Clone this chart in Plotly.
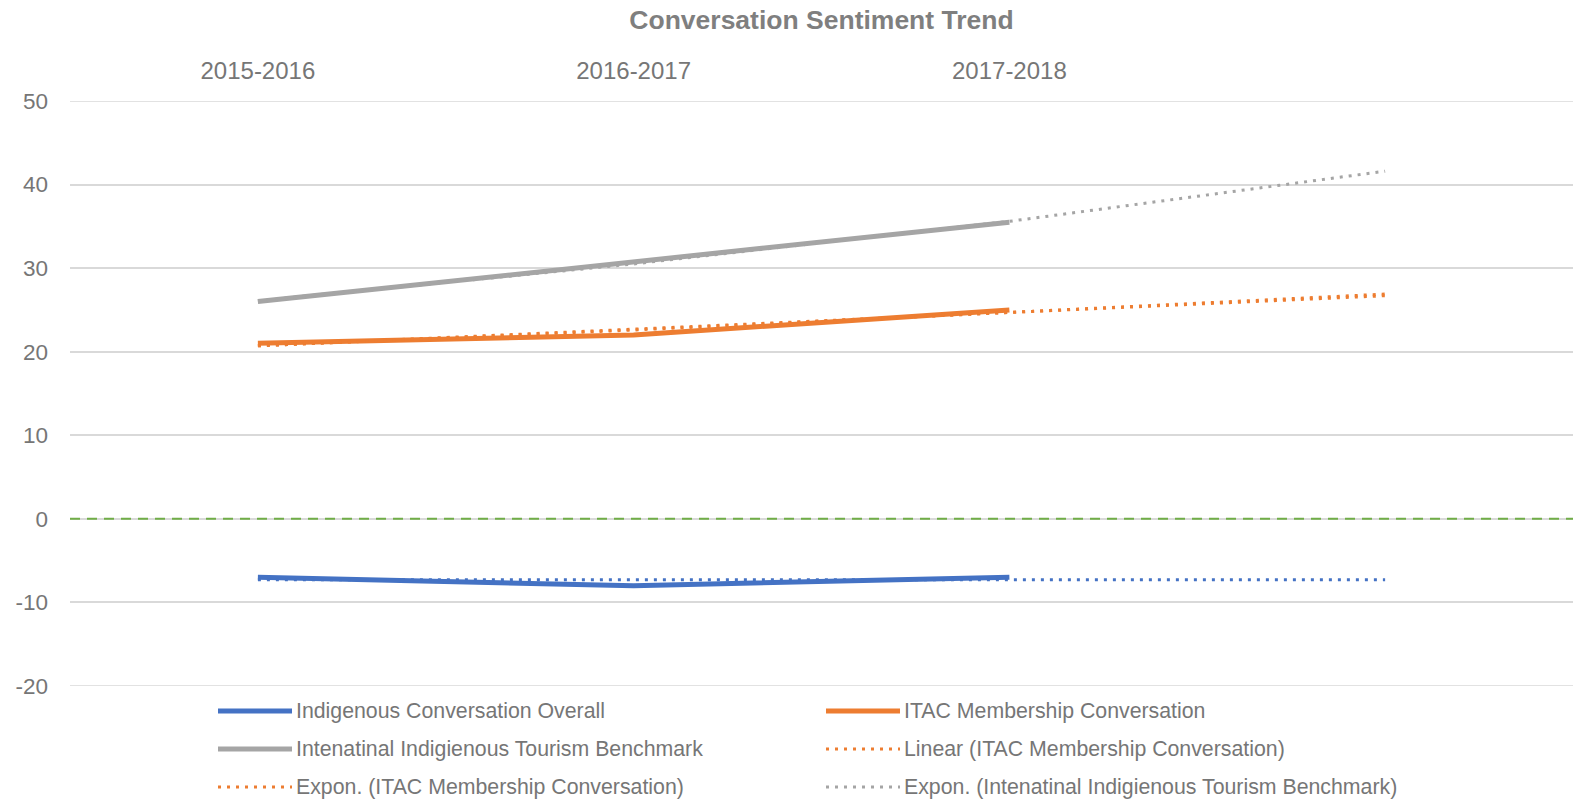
import plotly.graph_objects as go

# ---- data ----
periods = ["2015-2016", "2016-2017", "2017-2018"]
x_main = [0, 1, 2]
x_trend = [0, 1, 2, 3]   # trendlines forecast one period forward

indigenous_overall = [-7, -8, -7]
itac_membership = [21, 22, 25]
intl_benchmark = [26, 30.7, 35.5]

trend_indigenous = [-7.3, -7.3, -7.3, -7.3]
linear_itac = [20.7, 22.7, 24.7, 26.7]
expon_itac = [20.7, 22.6, 24.7, 26.9]
expon_benchmark = [26.1, 30.5, 35.6, 41.6]

y_ticks = [-20, -10, 0, 10, 20, 30, 40, 50]

names = [
    "Indigenous Conversation Overall",
    "ITAC Membership Conversation",
    "Intenatinal Indigienous Tourism Benchmark",
    "Linear (ITAC Membership Conversation)",
    "Expon. (ITAC Membership Conversation)",
    "Expon. (Intenatinal Indigienous Tourism Benchmark)",
]

BLUE = "#4472C4"
ORANGE = "#ED7D31"
GRAY = "#A5A5A5"
GREEN = "#70AD47"
TXT = "#767676"
GRID = "#D9D9D9"
FONT = "Liberation Sans, Arial, sans-serif"
DOT = "3px,6px"

fig = go.Figure()

fig.add_trace(go.Scatter(x=x_main, y=indigenous_overall, mode="lines", name=names[0],
                         line=dict(color=BLUE, width=5), showlegend=False))
fig.add_trace(go.Scatter(x=x_main, y=itac_membership, mode="lines", name=names[1],
                         line=dict(color=ORANGE, width=5), showlegend=False))
fig.add_trace(go.Scatter(x=x_main, y=intl_benchmark, mode="lines", name=names[2],
                         line=dict(color=GRAY, width=5), showlegend=False))

fig.add_trace(go.Scatter(x=x_trend, y=trend_indigenous, mode="lines", name="Trend (Indigenous)",
                         line=dict(color=BLUE, width=3, dash=DOT), showlegend=False))
fig.add_trace(go.Scatter(x=x_trend, y=linear_itac, mode="lines", name=names[3],
                         line=dict(color=ORANGE, width=3, dash=DOT), showlegend=False))
fig.add_trace(go.Scatter(x=x_trend, y=expon_itac, mode="lines", name=names[4],
                         line=dict(color=ORANGE, width=3, dash=DOT), showlegend=False))
fig.add_trace(go.Scatter(x=x_trend, y=expon_benchmark, mode="lines", name=names[5],
                         line=dict(color=GRAY, width=3, dash=DOT), showlegend=False))

W, H = 1573, 805
ML, MR, MT, MB = 70, 0, 101, 119
pw = W - ML - MR
ph = H - MT - MB

def px_x(p):
    return (p - ML) / pw

def px_y(p):
    return (H - MB - p) / ph

shapes = []
# gridlines at the range edges (plotly omits them at the plot border)
for v in (y_ticks[0], y_ticks[-1]):
    shapes.append(dict(type="line", xref="paper", yref="y", x0=0, x1=1, y0=v, y1=v,
                       line=dict(color=GRID, width=1.5), layer="below"))
shapes.append(dict(type="line", xref="paper", yref="y", x0=0, x1=1, y0=0, y1=0,
                   line=dict(color=GREEN, width=2, dash="10px,7px"), layer="above"))
annotations = []

legend_styles = [
    (BLUE, 5, "solid"), (ORANGE, 5, "solid"),
    (GRAY, 5, "solid"), (ORANGE, 3, DOT),
    (ORANGE, 3, DOT), (GRAY, 3, DOT),
]
col_x = [218, 826]
row_y = [711, 749, 787]
for i, (name, (c, w, d)) in enumerate(zip(names, legend_styles)):
    cx = col_x[i % 2]
    ry = row_y[i // 2]
    shapes.append(dict(type="line", xref="paper", yref="paper",
                       x0=px_x(cx), x1=px_x(cx + 74), y0=px_y(ry), y1=px_y(ry),
                       line=dict(color=c, width=w, dash=d)))
    annotations.append(dict(xref="paper", yref="paper", x=px_x(cx + 76), y=px_y(ry),
                            xanchor="left", yanchor="middle", text=name, showarrow=False,
                            font=dict(family=FONT, size=21.3, color=TXT)))

fig.update_layout(
    width=W, height=H,
    margin=dict(l=ML, r=MR, t=MT, b=MB, pad=0),
    paper_bgcolor="white", plot_bgcolor="white",
    title=dict(text="<b>Conversation Sentiment Trend</b>", x=0.5, xref="paper",
               y=1 - 20 / H, yref="container", yanchor="middle", xanchor="center",
               font=dict(family=FONT, size=26.5, color="#7F7F7F")),
    xaxis=dict(range=[-0.5, 3.5], side="top", tickmode="array", tickvals=x_main,
               ticktext=periods, showgrid=False, zeroline=False, showline=False,
               ticks="", ticklabelstandoff=16,
               tickfont=dict(family=FONT, size=24, color=TXT)),
    yaxis=dict(range=[-20, 50], tickmode="array", tickvals=y_ticks,
               ticktext=[str(v) for v in y_ticks], showgrid=True,
               gridcolor=GRID, gridwidth=1.5, zeroline=False, showline=False,
               ticks="", ticklabelstandoff=21,
               tickfont=dict(family=FONT, size=22.5, color=TXT)),
    shapes=shapes, annotations=annotations, showlegend=False,
)

fig.write_html("out.html")
